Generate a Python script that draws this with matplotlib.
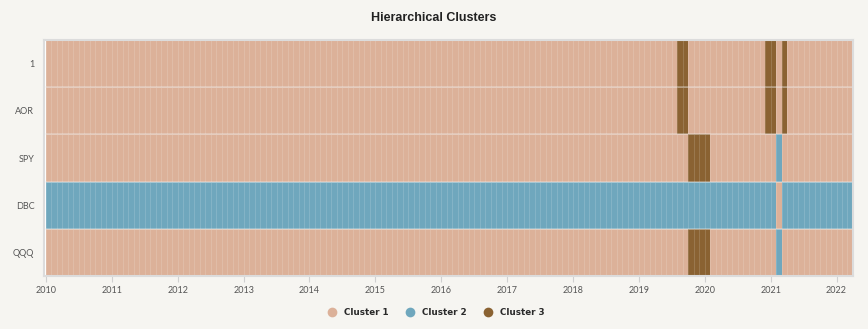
import matplotlib.pyplot as plt
import numpy as np
from matplotlib.colors import ListedColormap, BoundaryNorm
from matplotlib.lines import Line2D

# Rows (top to bottom) and cluster runs per month, starting Jan 2010
rows = ['1', 'AOR', 'SPY', 'DBC', 'QQQ']
start_year = 2010
n_months = 147

# (cluster, number of months)
runs_1 = [(1, 115), (3, 2), (1, 14), (3, 2), (1, 1), (3, 1), (1, 12)]
runs_aor = [(1, 115), (3, 2), (1, 14), (3, 2), (1, 1), (3, 1), (1, 12)]
runs_spy = [(1, 117), (3, 4), (1, 12), (2, 1), (1, 13)]
runs_dbc = [(2, 133), (1, 1), (2, 13)]
runs_qqq = [(1, 117), (3, 4), (1, 12), (2, 1), (1, 13)]

cluster_names = ['Cluster 1', 'Cluster 2', 'Cluster 3']
cluster_colors = ['#dcb199', '#6fa7bd', '#8a6232']

def expand(runs):
    out = []
    for c, n in runs:
        out += [c] * n
    return out

grid = np.array([expand(r) for r in [runs_1, runs_aor, runs_spy, runs_dbc, runs_qqq]])

fig = plt.figure(figsize=(8.68, 3.29), dpi=100)
fig.patch.set_facecolor('#f6f5f1')
ax = fig.add_axes([0.0507, 0.1611, 0.9320, 0.7173])

x_edges = start_year + np.arange(n_months + 1) / 12
y_edges = np.arange(len(rows) + 1)
cmap = ListedColormap(cluster_colors)
norm = BoundaryNorm([0.5, 1.5, 2.5, 3.5], cmap.N)
ax.pcolormesh(x_edges, y_edges, grid, cmap=cmap, norm=norm,
              edgecolors=(1, 1, 1, 0.14), linewidth=0.4)

# row separators
for y in range(1, len(rows)):
    ax.axhline(y, color='#f0f0f0', alpha=0.4, lw=1.2)

ax.set_xlim(start_year - 0.03, start_year + n_months / 12)
ax.set_ylim(len(rows), 0)
ax.set_yticks(np.arange(len(rows)) + 0.5)
ax.set_yticklabels(rows)
ax.set_xticks(np.arange(2010, 2023))
ax.set_xticklabels([str(y) for y in range(2010, 2023)])
ax.tick_params(axis='x', colors='#d0d0d0', labelcolor='#555555', labelsize=6.5,
               length=4, width=0.8, pad=3)
ax.tick_params(axis='y', length=0, labelcolor='#555555', labelsize=6.5, pad=7)
for lbl in ax.get_xticklabels() + ax.get_yticklabels():
    lbl.set_family('Lato')
for s in ax.spines.values():
    s.set_color('#dcdcdc')
    s.set_linewidth(1.5)

fig.text(0.5, 0.945, 'Hierarchical Clusters', ha='center', va='center',
         fontsize=9, fontweight='bold', family='Liberation Sans', color='#222222')

handles = [Line2D([], [], marker='o', ls='', markersize=7, color=c,
                  markeredgewidth=0) for c in cluster_colors]
leg = fig.legend(handles, cluster_names, loc='center', bbox_to_anchor=(0.502, 0.05),
                 ncol=3, frameon=False, handletextpad=0.75, columnspacing=1.9,
                 handlelength=1.2,
                 prop={'family': 'DejaVu Sans', 'weight': 'bold', 'size': 6.3})
for t in leg.get_texts():
    t.set_color('#2a2a2a')

fig.savefig('out.png', dpi=100, facecolor=fig.get_facecolor())
